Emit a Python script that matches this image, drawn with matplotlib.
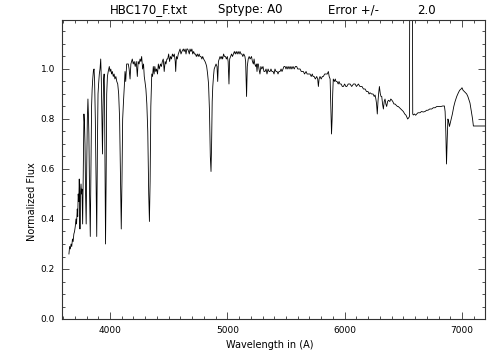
import numpy as np
import matplotlib.pyplot as plt
from matplotlib.ticker import MultipleLocator

# spectrum (wavelength in A, normalized flux)
wave = [3650, 3656, 3662, 3668, 3674, 3680, 3686, 3692, 3698, 3704, 3710, 3715, 3721, 3725, 3729, 3734,
        3738, 3741, 3744, 3748, 3753, 3757, 3761, 3764, 3767, 3771, 3775, 3778, 3783, 3787, 3792, 3797,
        3802, 3807, 3812, 3816, 3820, 3826, 3832, 3838, 3843, 3848, 3853, 3858, 3864, 3869, 3875, 3881,
        3887, 3893, 3898, 3903, 3909, 3915, 3921, 3926, 3931, 3936, 3941, 3946, 3950, 3953, 3957, 3962,
        3967, 3972, 3978, 3985, 3994, 4000, 4007, 4013, 4020, 4028, 4035, 4042, 4050, 4058, 4066, 4074,
        4082, 4090, 4096, 4102, 4108, 4115, 4122, 4128, 4134, 4142, 4156, 4163, 4171, 4178, 4190, 4198,
        4206, 4215, 4224, 4233, 4240, 4248, 4256, 4263, 4270, 4278, 4286, 4292, 4298, 4306, 4314, 4322,
        4330, 4336, 4342, 4348, 4356, 4363, 4369, 4376, 4382, 4390, 4397, 4405, 4412, 4420, 4430, 4438,
        4446, 4454, 4462, 4470, 4477, 4485, 4492, 4500, 4508, 4516, 4524, 4532, 4540, 4548, 4556, 4560,
        4566, 4574, 4582, 4590, 4597, 4605, 4613, 4625, 4632, 4640, 4648, 4655, 4662, 4670, 4676, 4682,
        4690, 4698, 4705, 4713, 4720, 4728, 4736, 4744, 4752, 4760, 4767, 4775, 4783, 4790, 4798, 4810,
        4818, 4824, 4832, 4840, 4848, 4855, 4861, 4866, 4871, 4876, 4882, 4888, 4896, 4904, 4912, 4918,
        4924, 4931, 4938, 4946, 4953, 4960, 4968, 4976, 4984, 4992, 5000, 5007, 5014, 5020, 5028, 5036,
        5044, 5052, 5060, 5068, 5076, 5084, 5092, 5100, 5108, 5116, 5124, 5132, 5140, 5150, 5156, 5164,
        5170, 5178, 5186, 5194, 5206, 5214, 5222, 5228, 5234, 5242, 5248, 5253, 5258, 5264, 5270, 5278,
        5286, 5294, 5304, 5312, 5321, 5330, 5338, 5347, 5356, 5364, 5372, 5380, 5390, 5398, 5406, 5415,
        5424, 5432, 5440, 5449, 5458, 5466, 5475, 5483, 5492, 5500, 5508, 5516, 5525, 5534, 5542, 5550,
        5560, 5570, 5580, 5591, 5600, 5610, 5620, 5630, 5640, 5648, 5658, 5671, 5680, 5690, 5705, 5715,
        5724, 5731, 5740, 5750, 5762, 5770, 5776, 5782, 5790, 5800, 5810, 5818, 5830, 5841, 5852, 5861,
        5868, 5876, 5882, 5888, 5893, 5898, 5903, 5912, 5920, 5926, 5935, 5945, 5952, 5960, 5970, 5980,
        5989, 6000, 6010, 6018, 6030, 6046, 6060, 6075, 6089, 6100, 6117, 6130, 6148, 6160, 6174, 6186,
        6199, 6208, 6216, 6230, 6242, 6252, 6259, 6266, 6272, 6278, 6284, 6289, 6296, 6304, 6310, 6316,
        6323, 6330, 6337, 6344, 6351, 6358, 6366, 6374, 6385, 6393, 6401, 6410, 6420, 6429, 6440, 6450,
        6457, 6468, 6480, 6490, 6500, 6512, 6523, 6537, 6546, 6552, 6558, 6574, 6580, 6585, 6595, 6605,
        6614, 6625, 6642, 6655, 6670, 6685, 6698, 6710, 6725, 6742, 6755, 6770, 6785, 6798, 6810, 6821,
        6835, 6850, 6856, 6862, 6868, 6874, 6880, 6886, 6893, 6898, 6908, 6918, 6930, 6941, 6955, 6969,
        6980, 6992, 7000, 7009, 7020, 7030, 7040, 7050, 7060, 7068, 7080, 7090, 7097, 7196]
flux = [0.26, 0.29, 0.28, 0.30, 0.29, 0.32, 0.31, 0.34, 0.35, 0.37, 0.40, 0.38, 0.44, 0.41, 0.50, 0.47,
        0.56, 0.50, 0.36, 0.50, 0.54, 0.50, 0.52, 0.45, 0.38, 0.55, 0.74, 0.82, 0.78, 0.70, 0.50, 0.38,
        0.62, 0.80, 0.88, 0.82, 0.74, 0.50, 0.33, 0.60, 0.85, 0.92, 0.96, 0.99, 1.00, 0.95, 0.80, 0.55,
        0.33, 0.70, 0.90, 0.94, 0.98, 1.00, 1.04, 0.96, 0.80, 0.66, 0.85, 0.96, 0.98, 0.92, 0.65, 0.30,
        0.55, 0.90, 0.97, 0.99, 1.01, 0.99, 1.00, 0.98, 0.99, 0.97, 0.98, 0.96, 0.97, 0.95, 0.94, 0.90,
        0.80, 0.55, 0.36, 0.55, 0.80, 0.87, 0.93, 0.99, 0.95, 1.02, 1.02, 1.00, 0.96, 1.02, 1.04, 1.02,
        1.03, 1.01, 1.03, 0.97, 1.03, 1.02, 1.04, 1.03, 1.05, 1.00, 1.02, 0.97, 0.95, 0.92, 0.86, 0.75,
        0.50, 0.39, 0.55, 0.85, 0.98, 0.97, 1.01, 0.98, 1.01, 0.99, 1.00, 0.98, 1.02, 1.00, 1.02, 1.01,
        1.03, 1.04, 0.99, 1.03, 1.02, 1.04, 1.04, 1.06, 1.03, 1.05, 1.04, 1.06, 1.05, 1.06, 1.03, 0.99,
        1.05, 1.04, 1.06, 1.07, 1.08, 1.06, 1.07, 1.08, 1.07, 1.08, 1.06, 1.08, 1.08, 1.07, 1.06, 1.08,
        1.07, 1.08, 1.06, 1.07, 1.06, 1.06, 1.05, 1.06, 1.05, 1.06, 1.05, 1.05, 1.04, 1.05, 1.04, 1.03,
        1.02, 1.01, 0.98, 0.94, 0.83, 0.65, 0.59, 0.70, 0.87, 0.93, 0.97, 1.00, 1.01, 1.02, 1.01, 0.95,
        1.03, 1.04, 1.05, 1.04, 1.05, 1.04, 1.06, 1.05, 1.05, 1.04, 1.05, 1.03, 0.94, 1.04, 1.05, 1.06,
        1.05, 1.06, 1.07, 1.06, 1.07, 1.06, 1.07, 1.06, 1.07, 1.06, 1.06, 1.05, 1.06, 1.05, 1.03, 0.89,
        1.01, 1.04, 1.05, 1.04, 1.05, 1.03, 1.02, 1.04, 1.02, 1.01, 1.02, 0.99, 1.02, 1.02, 1.00, 0.98,
        1.01, 1.00, 1.01, 0.99, 0.99, 1.00, 0.98, 1.00, 0.99, 0.99, 1.00, 0.99, 0.99, 0.98, 1.00, 0.99,
        0.99, 0.98, 0.99, 0.99, 1.00, 0.99, 1.00, 1.01, 1.01, 1.00, 1.01, 1.00, 1.01, 1.00, 1.01, 1.00,
        1.01, 1.00, 1.01, 1.01, 1.00, 1.00, 1.00, 0.99, 0.99, 0.99, 0.98, 0.99, 0.98, 0.98, 0.98, 0.97,
        0.98, 0.97, 0.97, 0.96, 0.97, 0.96, 0.93, 0.96, 0.97, 0.96, 0.97, 0.97, 0.98, 0.98, 0.98, 0.99,
        0.97, 0.96, 0.85, 0.74, 0.80, 0.90, 0.96, 0.95, 0.96, 0.95, 0.95, 0.94, 0.95, 0.94, 0.94, 0.93,
        0.93, 0.94, 0.93, 0.93, 0.94, 0.94, 0.93, 0.94, 0.94, 0.93, 0.94, 0.93, 0.93, 0.92, 0.92, 0.91,
        0.91, 0.90, 0.905, 0.90, 0.90, 0.89, 0.896, 0.88, 0.86, 0.82, 0.87, 0.90, 0.93, 0.90, 0.89, 0.89,
        0.86, 0.84, 0.87, 0.88, 0.86, 0.85, 0.87, 0.875, 0.87, 0.88, 0.876, 0.87, 0.86, 0.86, 0.855, 0.85,
        0.85, 0.845, 0.84, 0.835, 0.83, 0.82, 0.815, 0.80, 0.805, 0.81, 2.0, 2.0, 0.82, 0.816, 0.82, 0.815,
        0.82, 0.825, 0.825, 0.83, 0.828, 0.83, 0.835, 0.835, 0.84, 0.84, 0.845, 0.845, 0.85, 0.85, 0.85, 0.85,
        0.852, 0.852, 0.83, 0.75, 0.62, 0.72, 0.80, 0.79, 0.77, 0.78, 0.80, 0.82, 0.85, 0.87, 0.89, 0.905,
        0.915, 0.92, 0.925, 0.915, 0.91, 0.905, 0.90, 0.89, 0.875, 0.864, 0.83, 0.80, 0.772, 0.772]

x_ticks = [4000, 5000, 6000, 7000]
y_ticks = [0.0, 0.2, 0.4, 0.6, 0.8, 1.0]

plt.rcParams['font.family'] = 'DejaVu Sans'

fig = plt.figure(figsize=(5.04, 3.6), dpi=100)
ax = fig.add_axes([62 / 504, 41 / 360, 423 / 504, 299 / 360])
ax.plot(wave, flux, color='black', lw=0.6)

ax.set_xlim(3591, 7196)
ax.set_ylim(0, 1.196)
ax.set_xticks(x_ticks)
ax.set_yticks(y_ticks)
ax.set_yticklabels(['%.1f' % v for v in y_ticks])
ax.xaxis.set_minor_locator(MultipleLocator(100))
ax.yaxis.set_minor_locator(MultipleLocator(0.05))
ax.tick_params(which='both', direction='in', top=True, right=True, labelsize=6.5,
               width=0.6, color='#333333', pad=5)
ax.tick_params(which='major', length=5)
ax.tick_params(which='minor', length=2.5)
for s in ax.spines.values():
    s.set_linewidth(0.8)
    s.set_color('#333333')

# title pieces
fig.text(110 / 504, 1 - 10 / 360, 'HBC170_F.txt', fontsize=8.5, ha='left', va='center')
fig.text(218 / 504, 1 - 10 / 360, 'Sptype: A0', fontsize=8.5, ha='left', va='center')
fig.text(328 / 504, 1 - 10 / 360, 'Error +/-', fontsize=8.5, ha='left', va='center')
fig.text(417 / 504, 1 - 10 / 360, '2.0', fontsize=8.5, ha='left', va='center')

fig.text(270 / 504, 1 - 345 / 360, 'Wavelength in (A)', fontsize=7, ha='center', va='center')
fig.text(32 / 504, 1 - 202 / 360, 'Normalized Flux', fontsize=7, ha='center', va='center',
         rotation=90)

fig.savefig('out.png', dpi=100)
